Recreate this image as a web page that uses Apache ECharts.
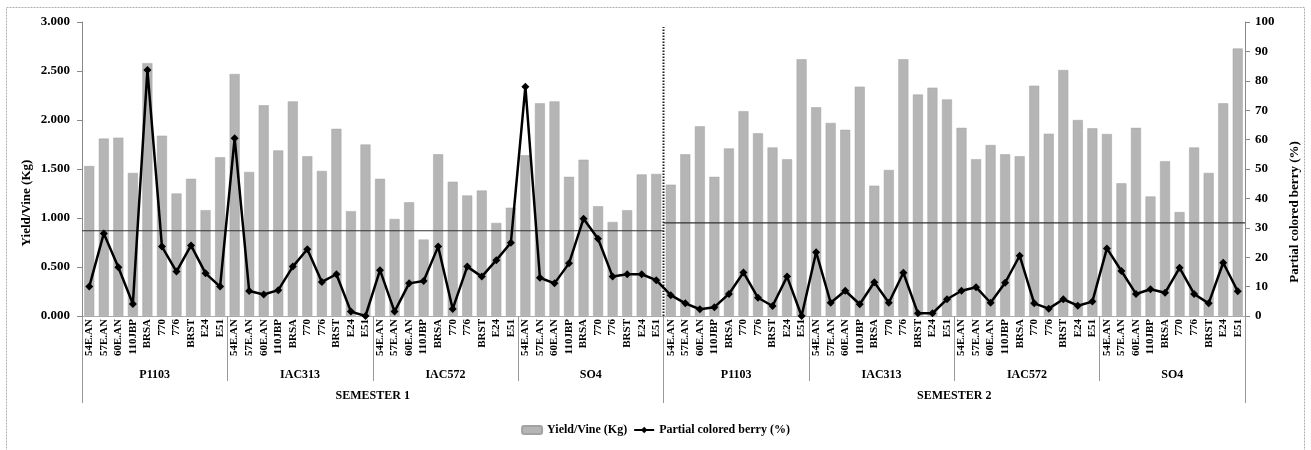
<!DOCTYPE html>
<html>
<head>
<meta charset="utf-8">
<script src="https://cdn.jsdelivr.net/npm/echarts@6/dist/echarts.min.js"></script>
<style>
  html, body { margin: 0; padding: 0; background: #fff; }
  #chart { width: 1311px; height: 450px; }
</style>
</head>
<body>
<div id="chart"></div>
<script>
// Rootstocks evaluated under every scion, in each semester
const rootstocks = ['54E.AN', '57E.AN', '60E.AN', '110JBP', 'BRSA', '770', '776', 'BRST', 'E24', 'E51'];
const scions = ['P1103', 'IAC313', 'IAC572', 'SO4'];
const semesters = ['SEMESTER 1', 'SEMESTER 2'];

// Yield per vine (kg), scion by scion, rootstocks in the order above
const yieldSemester1 = [
  1.53, 1.81, 1.82, 1.46, 2.58, 1.84, 1.25, 1.40, 1.08, 1.62,
  2.47, 1.47, 2.15, 1.69, 2.19, 1.63, 1.48, 1.91, 1.07, 1.75,
  1.40, 0.99, 1.16, 0.78, 1.65, 1.37, 1.23, 1.28, 0.95, 1.105,
  1.64, 2.17, 2.19, 1.42, 1.595, 1.12, 0.96, 1.08, 1.445, 1.45
];
const yieldSemester2 = [
  1.34, 1.65, 1.935, 1.42, 1.71, 2.09, 1.865, 1.72, 1.60, 2.62,
  2.13, 1.97, 1.90, 2.34, 1.33, 1.49, 2.62, 2.26, 2.33, 2.21,
  1.92, 1.60, 1.745, 1.65, 1.63, 2.35, 1.86, 2.51, 2.00, 1.915,
  1.857, 1.354, 1.92, 1.22, 1.58, 1.06, 1.72, 1.46, 2.17, 2.73
];

// Partial colored berries (%)
const coloredSemester1 = [
  10.0, 28.1, 16.6, 4.1, 83.7, 23.6, 15.1, 24.0, 14.5, 10.0,
  60.5, 8.5, 7.3, 8.8, 16.8, 22.7, 11.6, 14.2, 1.5, 0,
  15.6, 1.5, 11.1, 11.9, 23.6, 2.4, 16.8, 13.4, 19.0, 24.9,
  78.0, 13.0, 11.1, 17.9, 33.1, 26.3, 13.4, 14.2, 14.2, 12.2
];
const coloredSemester2 = [
  7.1, 4.3, 2.3, 3.0, 7.5, 14.8, 6.2, 3.4, 13.4, 0,
  21.7, 4.5, 8.6, 4.0, 11.5, 4.5, 14.7, 0.9, 0.9, 5.7,
  8.6, 9.8, 4.5, 11.3, 20.5, 4.3, 2.5, 5.7, 3.5, 4.9,
  23.0, 15.3, 7.5, 9.1, 7.9, 16.4, 7.5, 4.3, 18.1, 8.4
];

// Reference level (%) drawn across each semester
const semesterReference = [29.0, 31.7];

const categories = semesters.flatMap(() => scions.flatMap(() => rootstocks));
const scionLabels = semesters.flatMap(() => scions);
const yieldValues = yieldSemester1.concat(yieldSemester2);
const coloredValues = coloredSemester1.concat(coloredSemester2);
const nPerSemester = scions.length * rootstocks.length;
const nTotal = categories.length;

const FONT = 'Liberation Serif';
const txt = (size) => ({ fontFamily: FONT, fontWeight: 'bold', fontSize: size, color: '#000' });

const chart = echarts.init(document.getElementById('chart'), null, { renderer: 'canvas' });

const refSeries = semesterReference.map((v, i) => ({
  type: 'line',
  xAxisIndex: 3,
  yAxisIndex: 1,
  data: [[i * nPerSemester, v], [(i + 1) * nPerSemester, v]],
  symbol: 'none',
  silent: true,
  z: 3,
  lineStyle: { color: '#333', width: 1.2 }
}));

chart.setOption({
  animation: false,
  backgroundColor: '#fff',
  grid: { left: 82, right: 66, top: 22, bottom: 134 },
  legend: {
    data: ['Yield/Vine (Kg)', 'Partial colored berry (%)'],
    top: 419,
    left: 'center',
    itemWidth: 20,
    itemHeight: 8,
    itemGap: 6,
    textStyle: txt(12)
  },
  xAxis: [
    {
      type: 'category',
      data: categories,
      axisLine: { show: true, lineStyle: { color: '#aaa', width: 1 } },
      axisTick: { show: false },
      axisLabel: Object.assign({ rotate: 90, interval: 0, margin: 3 }, txt(11))
    },
    {
      type: 'category',
      data: scionLabels,
      position: 'bottom',
      axisLine: { show: false },
      axisTick: { show: true, length: 65, interval: 0, lineStyle: { color: '#999' } },
      axisLabel: Object.assign({ interval: 0, margin: 53 }, txt(12))
    },
    {
      type: 'category',
      data: semesters,
      position: 'bottom',
      axisLine: { show: false },
      axisTick: { show: true, length: 87, interval: 0, lineStyle: { color: '#999' } },
      axisLabel: Object.assign({ interval: 0, margin: 74 }, txt(12))
    },
    { type: 'value', min: 0, max: nTotal, show: false }
  ],
  yAxis: [
    {
      type: 'value',
      min: 0, max: 3, interval: 0.5,
      position: 'left',
      axisLine: { show: true, lineStyle: { color: '#888' } },
      axisTick: { show: true, length: 5, lineStyle: { color: '#888' } },
      splitLine: { show: false },
      axisLabel: Object.assign({ margin: 12, formatter: (v) => v.toFixed(3) }, txt(13))
    },
    {
      type: 'value',
      min: 0, max: 100, interval: 10,
      position: 'right',
      axisLine: { show: true, lineStyle: { color: '#888' } },
      axisTick: { show: true, length: 5, lineStyle: { color: '#888' } },
      splitLine: { show: false },
      axisLabel: Object.assign({ margin: 10 }, txt(13))
    }
  ],
  series: [
    {
      name: 'Yield/Vine (Kg)',
      type: 'bar',
      xAxisIndex: 0,
      yAxisIndex: 0,
      data: yieldValues,
      barWidth: 10,
      z: 2,
      itemStyle: { color: '#b5b5b5', borderColor: '#a3a3a3', borderWidth: 0.5 }
    },
    ...refSeries,
    {
      // dotted divider between the two semesters
      type: 'line',
      xAxisIndex: 3,
      yAxisIndex: 1,
      data: [[nPerSemester, 0], [nPerSemester, 98.3]],
      symbol: 'none',
      silent: true,
      z: 3,
      lineStyle: { color: '#222', width: 2, type: [1.5, 1.5] }
    },
    {
      name: 'Partial colored berry (%)',
      type: 'line',
      xAxisIndex: 0,
      yAxisIndex: 1,
      data: coloredValues,
      symbol: 'diamond',
      symbolSize: 8,
      z: 5,
      lineStyle: { color: '#000', width: 2.5 },
      itemStyle: { color: '#000' }
    }
  ],
  graphic: [
    {
      type: 'rect',
      silent: true,
      shape: { x: 6.5, y: 7.5, width: 1298, height: 460 },
      style: { fill: 'none', stroke: '#b0b0b0', lineWidth: 1, lineDash: [2, 1] }
    },
    {
      type: 'text',
      x: 27, y: 203,
      rotation: Math.PI / 2,
      style: Object.assign({ text: 'Yield/Vine (Kg)', align: 'center', verticalAlign: 'middle', fill: '#000' },
        { font: 'bold 13px "' + FONT + '"' })
    },
    {
      type: 'text',
      x: 1295, y: 212,
      rotation: Math.PI / 2,
      style: Object.assign({ text: 'Partial colored berry (%)', align: 'center', verticalAlign: 'middle', fill: '#000' },
        { font: 'bold 13px "' + FONT + '"' })
    }
  ]
});
</script>
</body>
</html>
